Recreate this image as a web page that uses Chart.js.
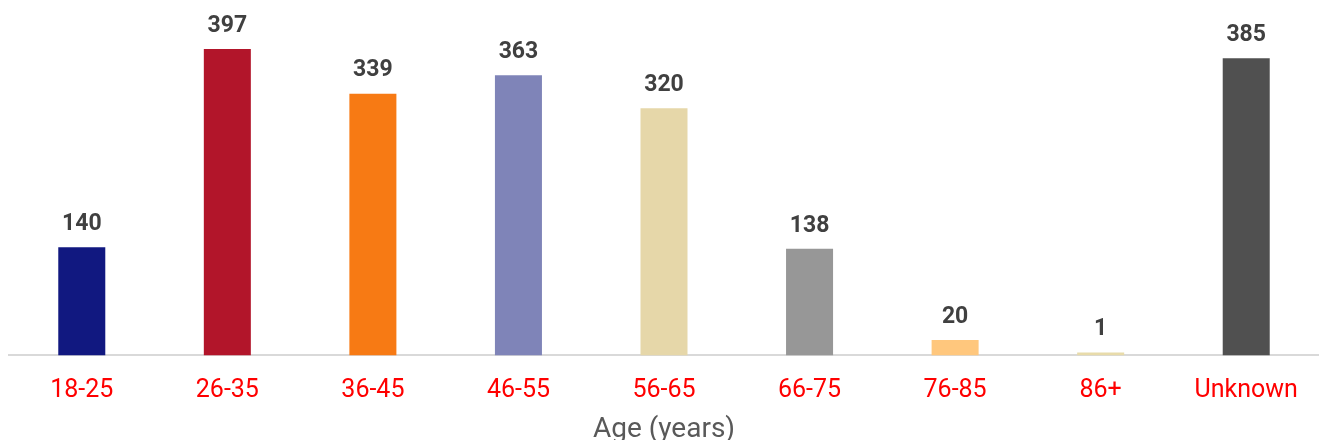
<!DOCTYPE html>
<html>
<head>
<meta charset="utf-8">
<script src="https://cdn.jsdelivr.net/npm/chart.js@4"></script>
<style>
  html, body { margin: 0; padding: 0; background: #fff; overflow: hidden; }
  #wrap { width: 1319px; height: 447px; position: relative; }
</style>
</head>
<body>
<div id="wrap"><canvas id="ageChart"></canvas></div>
<script>
// Age groups and counts
const ageGroups = ['18-25', '26-35', '36-45', '46-55', '56-65', '66-75', '76-85', '86+', 'Unknown'];
const counts = [140, 397, 339, 363, 320, 138, 20, 1, 385];
const barColors = ['#111880', '#B2152A', '#F77A14', '#7F84B8', '#E6D7A9', '#979797', '#FFC77D', '#E8DBAA', '#505050'];

// Draw value labels above the bars
const valueLabels = {
    id: 'valueLabels',
    afterDatasetsDraw(chart) {
        const ctx = chart.ctx;
        const meta = chart.getDatasetMeta(0);
        ctx.save();
        ctx.font = 'bold 23px Roboto';
        ctx.fillStyle = '#404040';
        ctx.textAlign = 'center';
        ctx.textBaseline = 'middle';
        meta.data.forEach((bar, i) => {
            ctx.fillText(counts[i], bar.x, bar.y - 23);
        });
        ctx.restore();
    }
};

const ctx = document.getElementById('ageChart').getContext('2d');
new Chart(ctx, {
    type: 'bar',
    data: {
        labels: ageGroups,
        datasets: [{
            data: counts,
            backgroundColor: barColors,
            barPercentage: 0.323,
            categoryPercentage: 1.0,
            minBarLength: 3, // keep the tiny "86+" bar visible
        }],
    },
    options: {
        responsive: true,
        maintainAspectRatio: false,
        animation: false,
        layout: { padding: { left: 9, right: 0, top: 8, bottom: 0 } },
        plugins: {
            legend: { display: false },
            tooltip: { enabled: false },
        },
        scales: {
            x: {
                grid: { display: false },
                border: { display: true, color: '#d9d9d9', width: 2 },
                ticks: {
                    color: '#ff0000',
                    font: { family: 'Roboto', size: 25 },
                    padding: 12,
                },
                title: {
                    display: true,
                    text: 'Age (years)',
                    color: '#595959',
                    font: { family: 'Roboto', size: 28 },
                    padding: { top: -4, bottom: 0 },
                },
            },
            y: {
                display: false,
                min: 0,
                max: 450,
            },
        },
    },
    plugins: [valueLabels],
});
</script>
</body>
</html>
